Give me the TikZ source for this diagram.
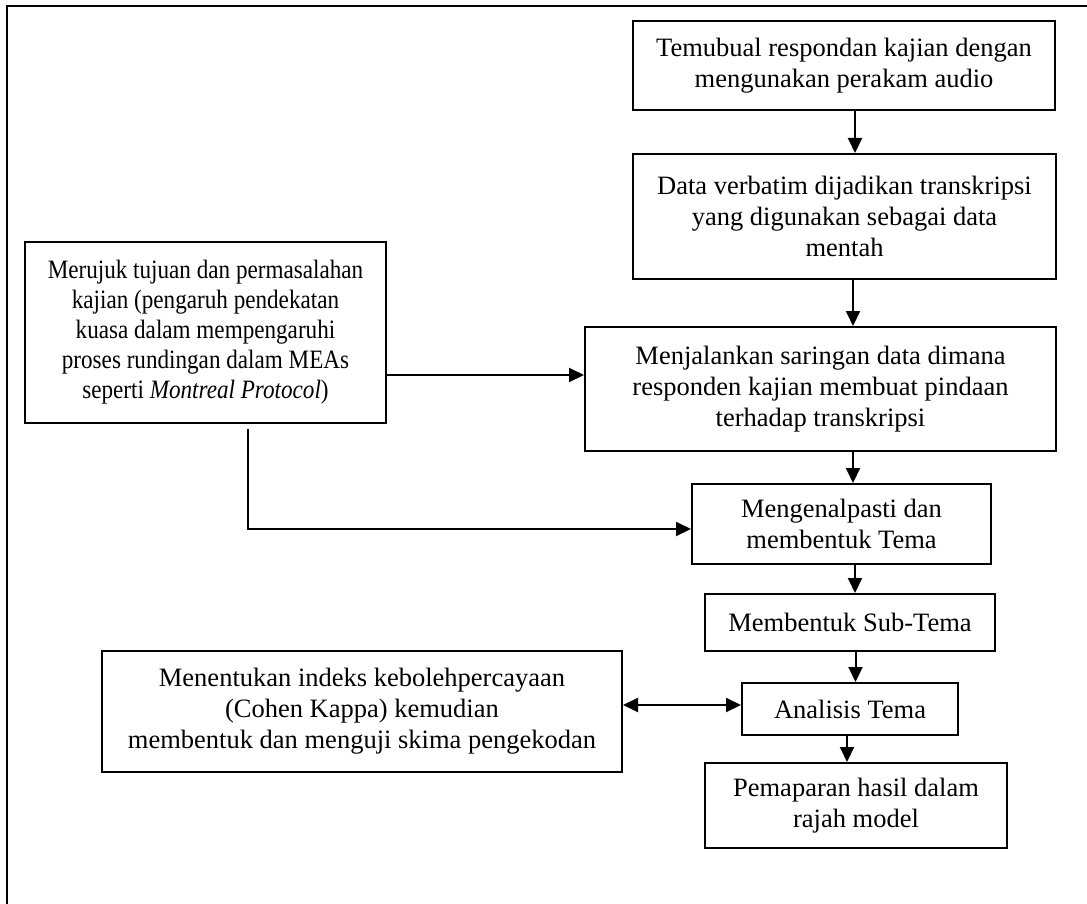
\documentclass[tikz,border=0pt]{standalone}
\usepackage{fontspec}
\setmainfont{Liberation Serif}
\newfontfamily\condserif[FakeStretch=0.873]{Liberation Serif}
\usetikzlibrary{arrows.meta}
\begin{document}
\begin{tikzpicture}[x=1pt,y=-1pt,
  box/.style={draw, line width=2pt, inner sep=0pt, align=center,
    font=\fontsize{26.5}{31}\selectfont},
  condbox/.style={box, font=\condserif\fontsize{26.5}{30}\selectfont},
  arr/.style={line width=2pt, -{Triangle[length=15pt,width=14pt]}},
  darr/.style={line width=2pt, {Triangle[length=15pt,width=14pt]}-{Triangle[length=15pt,width=14pt]}},
  frame/.style={line width=2pt}]
\useasboundingbox (0,0) rectangle (1087,904);
% outer frame (top and left edges)
\coordinate (f0) at (7,6);
\coordinate (f1) at (1087,6);
\coordinate (f2) at (7,904);
\draw[frame] (f2) -- (f0) -- (f1);
% boxes
\node[box, minimum width=422pt, minimum height=89pt] (b1) at (844,65.5)
  {Temubual respondan kajian dengan\\mengunakan perakam audio};
\node[box, minimum width=423pt, minimum height=125pt] (b2) at (844.5,216.5)
  {Data verbatim dijadikan transkripsi\\yang digunakan sebagai data\\mentah};
\node[condbox, minimum width=361pt, minimum height=181pt] (b3) at (205.5,332.5)
  {Merujuk tujuan dan permasalahan\\kajian (pengaruh pendekatan\\kuasa dalam mempengaruhi\\proses rundingan dalam MEAs\\seperti \textit{Montreal Protocol})};
\node[box, minimum width=471pt, minimum height=124pt] (b4) at (820.5,389)
  {Menjalankan saringan data dimana\\responden kajian membuat pindaan\\terhadap transkripsi};
\node[box, minimum width=299pt, minimum height=80pt] (b5) at (841.5,524)
  {Mengenalpasti dan\\membentuk Tema};
\node[box, minimum width=290pt, minimum height=57pt] (b6) at (850,622.5)
  {Membentuk Sub-Tema};
\node[box, minimum width=520pt, minimum height=121pt] (b7) at (362,711.5)
  {Menentukan indeks kebolehpercayaan\\(Cohen Kappa) kemudian\\membentuk dan menguji skima pengekodan};
\node[box, minimum width=216pt, minimum height=52pt] (b8) at (850,709)
  {Analisis Tema};
\node[box, minimum width=302pt, minimum height=85pt] (b9) at (856,805.5)
  {Pemaparan hasil dalam\\rajah model};
% helper coordinates for connector columns / rows
\coordinate (cA) at (855,0);
\coordinate (cB) at (853,0);
\coordinate (cC) at (855.5,0);
\coordinate (cD) at (847,0);
\coordinate (cL) at (248,0);
\coordinate (rA) at (0,375);
\coordinate (rB) at (0,705);
\coordinate (rC) at (0,529);
% connectors
\draw[arr] (b1.south -| cA) -- (b2.north -| cA);
\draw[arr] (b2.south -| cB) -- (b4.north -| cB);
\draw[arr] (b4.south -| cB) -- (b5.north -| cB);
\draw[arr] (b5.south -| cA) -- (b6.north -| cA);
\draw[arr] (b6.south -| cC) -- (b8.north -| cC);
\draw[arr] (b8.south -| cD) -- (b9.north -| cD);
\draw[arr] (b3.east |- rA) -- (b4.west |- rA);
\draw[arr] ([yshift=-5pt]b3.south -| cL) |- (b5.west |- rC);
\draw[darr] (b7.east |- rB) -- (b8.west |- rB);
\end{tikzpicture}
\end{document}
